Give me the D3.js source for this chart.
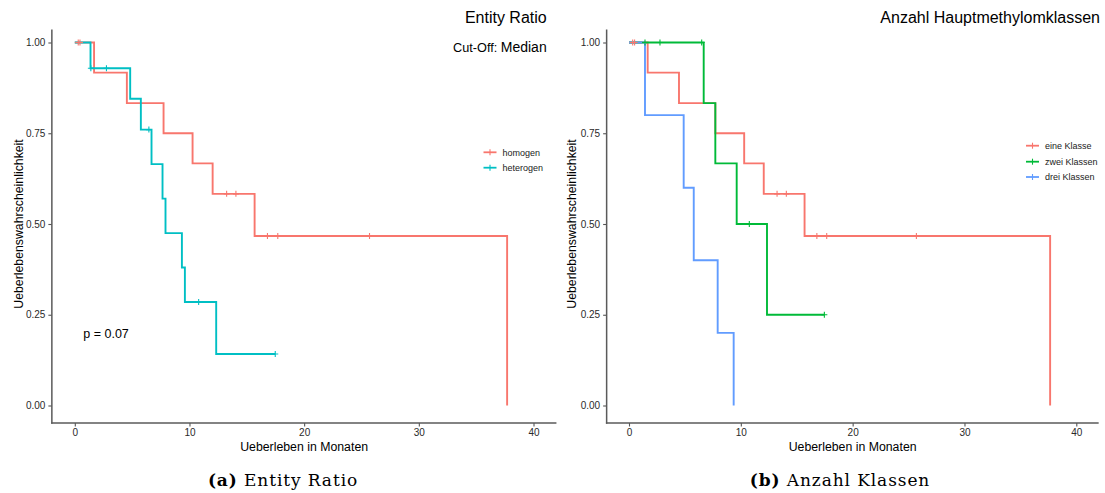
<!DOCTYPE html>
<html><head><meta charset="utf-8">
<script src="https://cdn.jsdelivr.net/npm/d3@7"></script>
<style>body{margin:0;background:#fff}svg{display:block}text{font-family:"Liberation Sans",Arial,sans-serif}</style>
</head><body><svg id="c" width="1105" height="493"></svg>
<script>
// ---- data ----
const xTicks = [0, 10, 20, 30, 40];
const yTicks = [0, 0.25, 0.5, 0.75, 1];
const yTickLabels = ["0.00", "0.25", "0.50", "0.75", "1.00"];

// Panel (a): Entity Ratio
const homogenTimes = [0, 1.68, 4.54, 7.74, 10.27, 12.02, 15.68, 37.7];
const homogenSurv  = [1, 0.917, 0.833, 0.75, 0.667, 0.583, 0.467, 0];
const homogenEnd = 37.7;
const homogenCensor = [0.3, 0.45, 13.24, 14.05, 16.8, 17.7, 25.7];

const heterogenTimes = [0, 1.37, 4.83, 5.76, 6.69, 7.65, 7.91, 9.34, 9.6, 12.33];
const heterogenSurv  = [1, 0.929, 0.845, 0.76, 0.665, 0.57, 0.475, 0.38, 0.285, 0.142];
const heterogenEnd = 17.48;
const heterogenCensor = [1.4, 2.76, 6.46, 10.8, 17.48];

// Panel (b): Anzahl Hauptmethylomklassen
const eineTimes = [0, 1.67, 4.47, 7.72, 10.3, 12.05, 15.7, 37.66];
const eineSurv  = [1, 0.917, 0.833, 0.75, 0.667, 0.583, 0.467, 0];
const eineEnd = 37.66;
const eineCensor = [0.33, 0.5, 13.24, 14.07, 16.8, 17.68, 25.7];

const zweiTimes = [0, 6.68, 7.72, 9.63, 12.34];
const zweiSurv  = [1, 0.833, 0.667, 0.5, 0.25];
const zweiEnd = 17.47;
const zweiCensor = [1.43, 2.77, 6.5, 10.76, 17.47];

const dreiTimes = [0, 1.43, 4.89, 5.79, 7.93, 9.36];
const dreiSurv  = [1, 0.8, 0.6, 0.4, 0.2, 0];
const dreiEnd = 9.36;
const dreiCensor = [];

const seriesA = [
  {name: "homogen", times: homogenTimes, surv: homogenSurv, end: homogenEnd, censor: homogenCensor, color: "#F8766D"},
  {name: "heterogen", times: heterogenTimes, surv: heterogenSurv, end: heterogenEnd, censor: heterogenCensor, color: "#00BFC4"}
];
const seriesB = [
  {name: "eine Klasse", times: eineTimes, surv: eineSurv, end: eineEnd, censor: eineCensor, color: "#F8766D"},
  {name: "zwei Klassen", times: zweiTimes, surv: zweiSurv, end: zweiEnd, censor: zweiCensor, color: "#00BA38"},
  {name: "drei Klassen", times: dreiTimes, surv: dreiSurv, end: dreiEnd, censor: dreiCensor, color: "#619CFF"}
];

// ---- drawing ----
const svg = d3.select("#c");
const yScale = d3.scaleLinear([0, 1], [405.5, 42.5]);

function survAt(s, t) {
  let v = s.surv[0];
  for (let i = 0; i < s.times.length; i++) if (s.times[i] <= t) v = s.surv[i];
  return v;
}

function panel(cfg) {
  const x = d3.scaleLinear([0, 40], cfg.xr);
  const y = yScale;
  const g = svg.append("g");
  const axY = x(-2), axX = 423;
  const xa = g.append("g").attr("transform", `translate(0,${axX})`)
    .call(d3.axisBottom(x).tickValues(xTicks).tickSize(3.5).tickPadding(2.5).tickFormat(d3.format("d")));
  const ya = g.append("g").attr("transform", `translate(${axY},0)`)
    .call(d3.axisLeft(y).tickValues(yTicks).tickSize(3.5).tickPadding(3).tickFormat((d, i) => yTickLabels[i]));
  [xa, ya].forEach(a => {
    a.select(".domain").remove();
    a.selectAll(".tick line").attr("stroke", "#555").attr("stroke-width", 1.1);
    a.selectAll(".tick text").attr("fill", "#2a2a2a").style("font-size", "10px").style("font-family", '"Liberation Sans",Arial,sans-serif');
  });
  g.append("line").attr("x1", axY).attr("x2", axY).attr("y1", 29.5).attr("y2", axX + 0.7)
    .attr("stroke", "#5a5a5a").attr("stroke-width", 1.5);
  g.append("line").attr("x1", axY - 0.7).attr("x2", x(42)).attr("y1", axX).attr("y2", axX)
    .attr("stroke", "#5a5a5a").attr("stroke-width", 1.5);

  const line = d3.line().x(d => x(d[0])).y(d => y(d[1])).curve(d3.curveStepAfter);
  cfg.series.forEach(s => {
    const pts = s.times.map((t, i) => [t, s.surv[i]]);
    pts.push([s.end, s.surv[s.surv.length - 1]]);
    g.append("path").attr("d", line(pts)).attr("fill", "none")
      .attr("stroke", s.color).attr("stroke-width", 1.9).attr("stroke-linejoin", "miter");
  });
  cfg.series.forEach(s => {
    s.censor.forEach(t => {
      const cx = x(t), cy = y(survAt(s, t));
      g.append("path").attr("d", `M${cx - 3},${cy}H${cx + 3}M${cx},${cy - 3}V${cy + 3}`)
        .attr("stroke", s.color).attr("stroke-width", 1.1);
    });
  });
  g.append("text").attr("x", (x(-2) + x(42)) / 2).attr("y", 450.5).attr("text-anchor", "middle")
    .style("font-size", "12.3px").attr("fill", "#000").text("Ueberleben in Monaten");
  g.append("text").attr("transform", `translate(${cfg.ylabX},${(y(-0.05) + y(1.05)) / 2}) rotate(-90)`)
    .attr("text-anchor", "middle").style("font-size", "12.3px").attr("fill", "#000")
    .text("Ueberlebenswahrscheinlichkeit");
  cfg.series.forEach((s, i) => {
    const ly = cfg.legY[i];
    const lx = cfg.legX;
    g.append("line").attr("x1", lx).attr("x2", lx + 13).attr("y1", ly).attr("y2", ly)
      .attr("stroke", s.color).attr("stroke-width", 1.8);
    g.append("line").attr("x1", lx + 6.5).attr("x2", lx + 6.5).attr("y1", ly - 3).attr("y2", ly + 3)
      .attr("stroke", s.color).attr("stroke-width", 1.1);
    g.append("text").attr("x", lx + 19).attr("y", ly + 3.2).style("font-size", "9px")
      .attr("fill", "#222").text(s.name);
  });
  return {g, x, y};
}

panel({xr: [74.8, 533.5], series: seriesA, ylabX: 22.5, legX: 483.5, legY: [152.3, 167.7]});
panel({xr: [629, 1076.3], series: seriesB, ylabX: 576, legX: 1026, legY: [145.7, 161.7, 177]});

svg.append("text").attr("x", 546.7).attr("y", 22.7).attr("text-anchor", "end")
  .style("font-size", "16px").attr("fill", "#000").text("Entity Ratio");
const co = svg.append("text").attr("x", 546.7).attr("y", 51.7).attr("text-anchor", "end").attr("fill", "#000");
co.append("tspan").style("font-size", "12.7px").text("Cut-Off: ");
co.append("tspan").style("font-size", "14px").text("Median");
svg.append("text").attr("x", 1100).attr("y", 22.7).attr("text-anchor", "end")
  .style("font-size", "16px").attr("fill", "#000").text("Anzahl Hauptmethylomklassen");

svg.append("text").attr("x", 83.3).attr("y", 338).style("font-size", "12.5px").attr("fill", "#000").text("p = 0.07");

function caption(cx, label, txt) {
  const t = svg.append("text").attr("x", cx).attr("y", 485.7).attr("text-anchor", "middle")
    .style("font-family", '"DejaVu Serif","Liberation Serif",serif').style("font-size", "17px")
    .style("letter-spacing", "0.9px").attr("fill", "#000");
  t.append("tspan").style("font-weight", "bold").text(label);
  t.append("tspan").text(" " + txt);
}
caption(283, "(a)", "Entity Ratio");
caption(840, "(b)", "Anzahl Klassen");
</script></body></html>
